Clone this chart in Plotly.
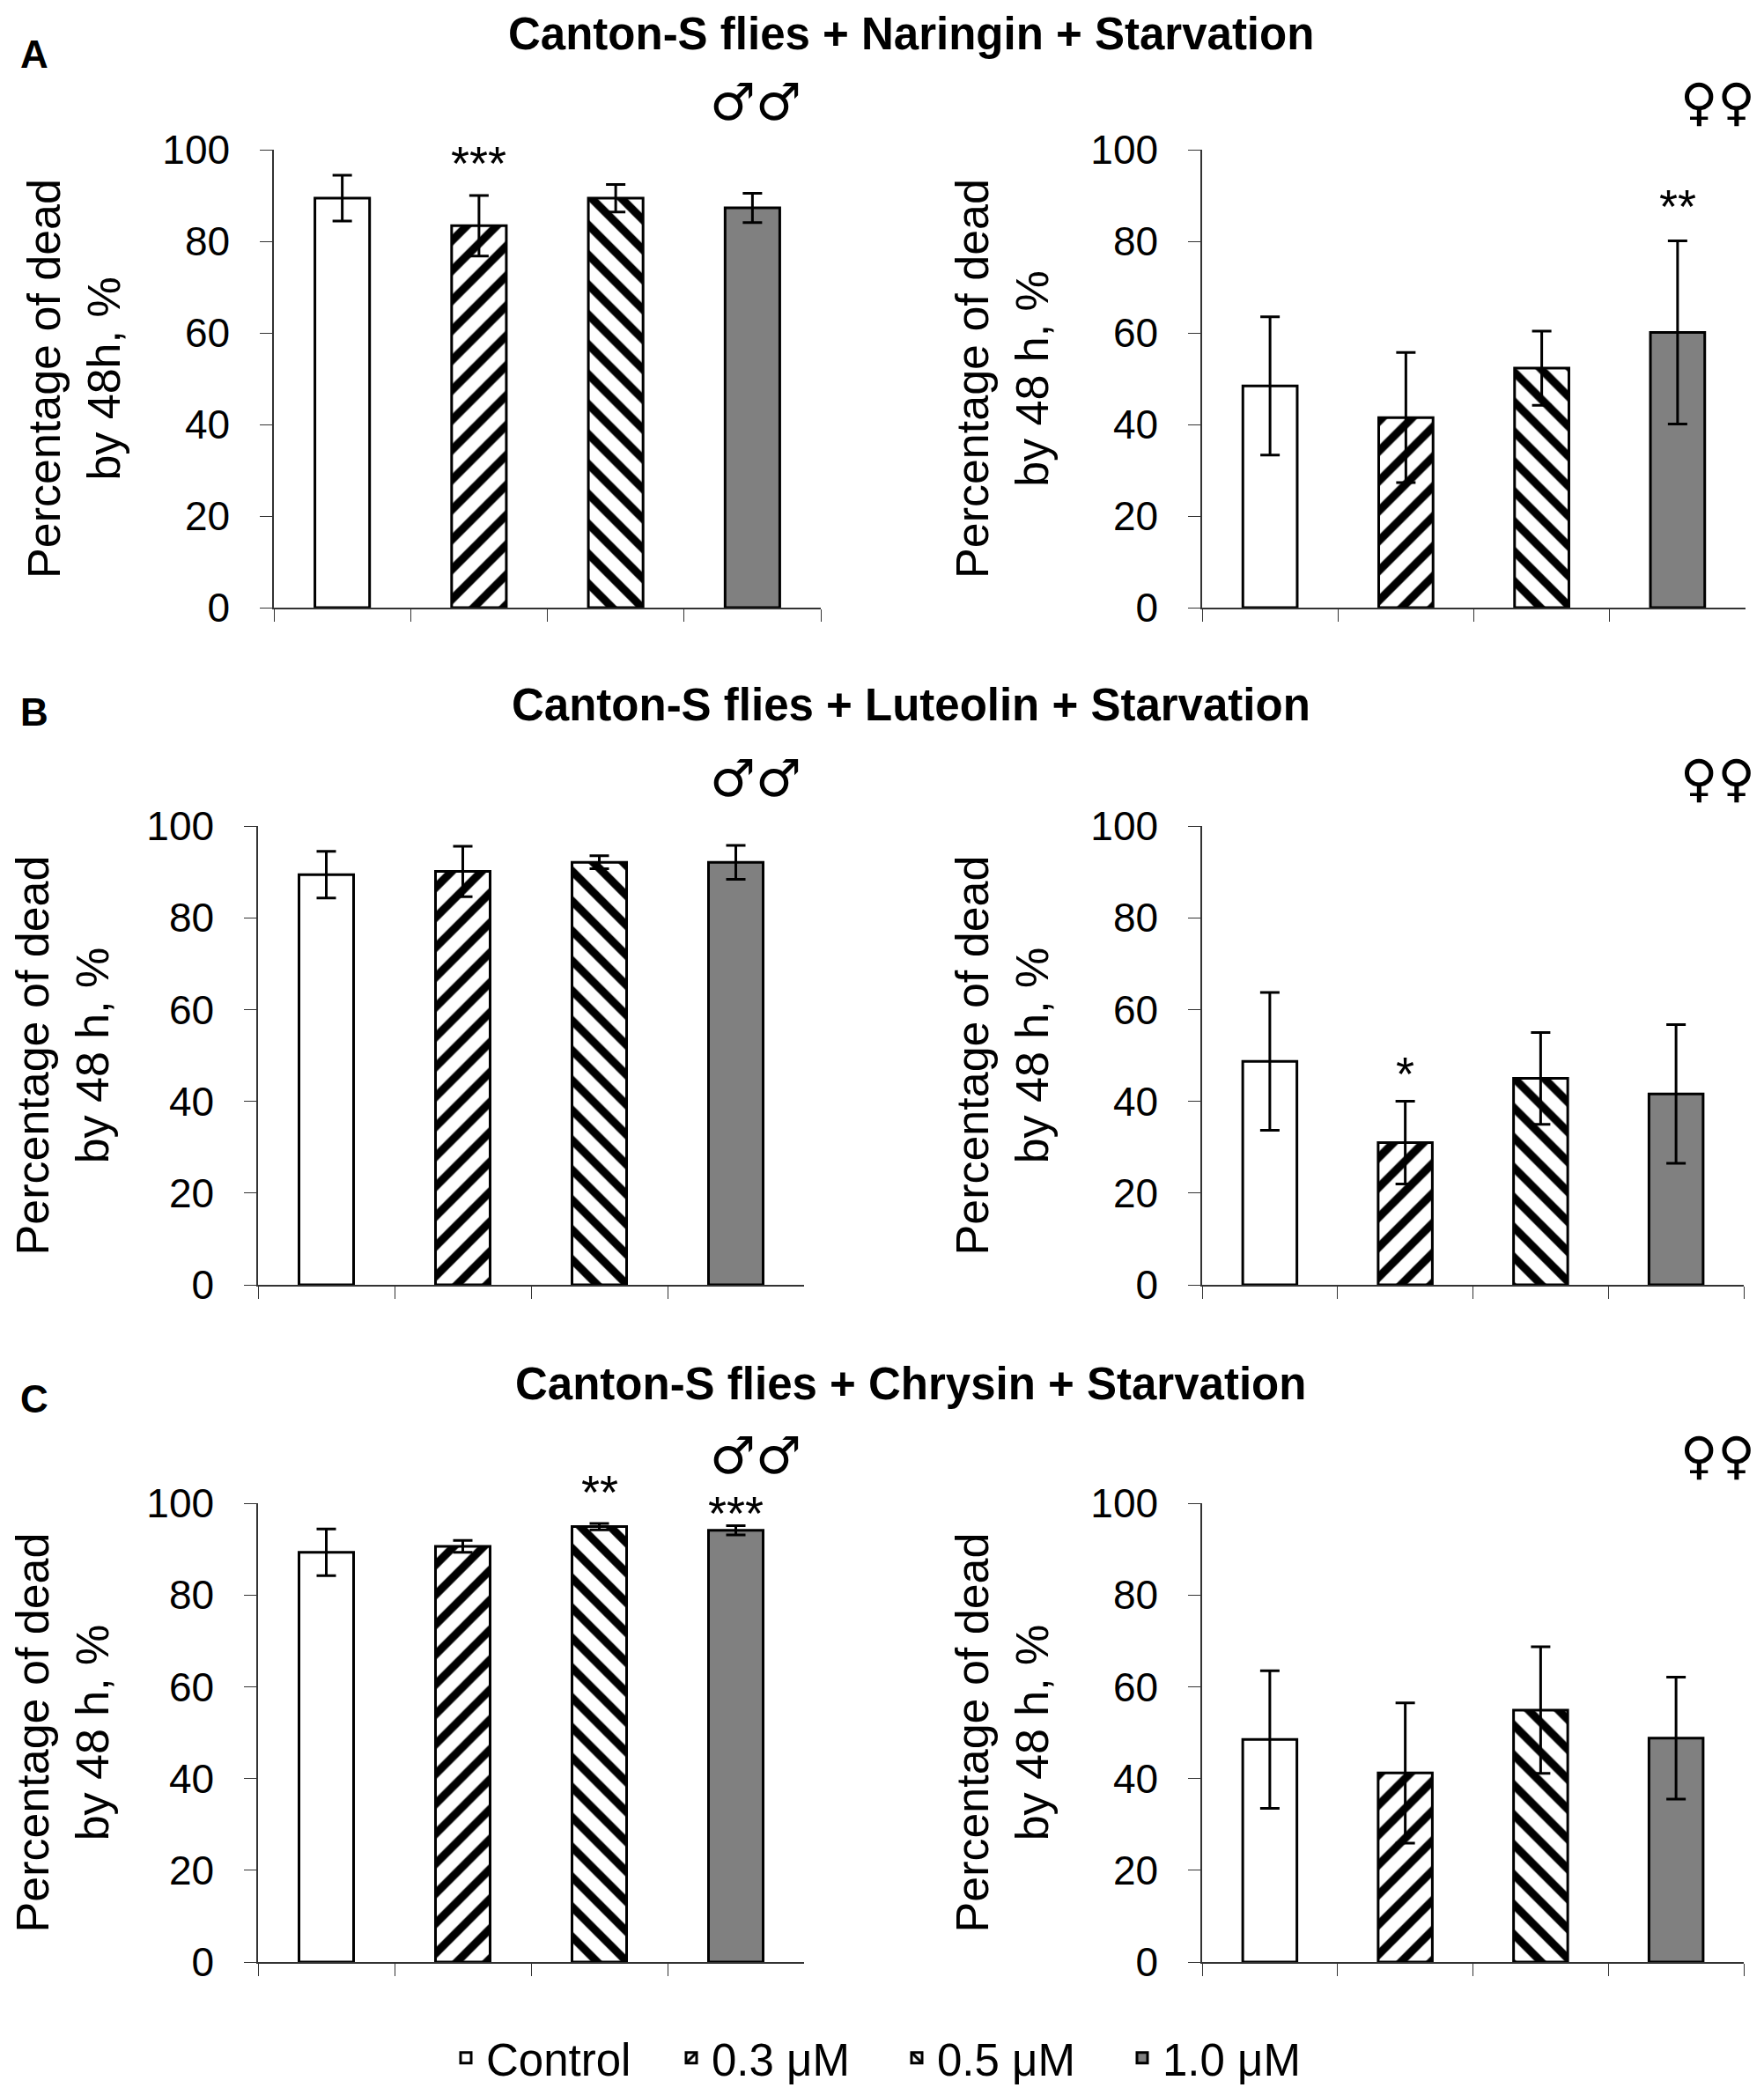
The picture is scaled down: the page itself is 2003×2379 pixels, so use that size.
import plotly.graph_objects as go
from plotly.subplots import make_subplots

# Canvas size of the reference picture (px)
W, H = 2003, 2379
PAGE_OFFSET = 8  # default body margin of the page holding the figure

doses = ["Control", "0.3 μM", "0.5 μM", "1.0 μM"]

# Percentage of dead flies by 48 h (mean and error)
naringin_male = [89.4, 83.4, 89.4, 87.3]
naringin_male_err = [5.0, 6.6, 3.0, 3.2]
naringin_female = [48.4, 41.5, 52.3, 60.1]
naringin_female_err = [15.1, 14.2, 8.1, 20.0]

luteolin_male = [89.4, 90.1, 92.1, 92.1]
luteolin_male_err = [5.1, 5.5, 1.4, 3.7]
luteolin_female = [48.7, 31.0, 45.0, 41.6]
luteolin_female_err = [15.0, 9.0, 10.0, 15.1]

chrysin_male = [89.3, 90.6, 94.9, 94.1]
chrysin_male_err = [5.1, 1.3, 0.7, 1.0]
chrysin_female = [48.5, 41.2, 54.9, 48.8]
chrysin_female_err = [15.0, 15.3, 13.8, 13.3]

panel_titles = ["Canton-S flies + Naringin + Starvation",
                "Canton-S flies + Luteolin + Starvation",
                "Canton-S flies + Chrysin + Starvation"]
panel_letters = ["A", "B", "C"]

# significance marks: (subplot number, dose index, label, height in % units)
stars = [(1, 1, "***", 97.2), (2, 3, "**", 87.6), (4, 1, "*", 46.0),
         (5, 2, "**", 102.5), (5, 3, "***", 97.8)]

FONT = "Liberation Sans, Arial, sans-serif"
SYMBOL_FONT = "DejaVu Sans ExtraLight, DejaVu Sans, sans-serif"
bar_fill = ["white", "white", "white", "#808080"]
bar_pattern = ["", "/", "\\", ""]


def px_x(p):
    return (p - PAGE_OFFSET) / W


def px_y(p):
    return 1 - (p - PAGE_OFFSET) / H


# (values, errors, y title, x range px, y range px, sex symbol)
panels = [
    (naringin_male, naringin_male_err, "Percentage of dead<br>by 48h, %", (311, 932), (690, 170), "♂♂"),
    (naringin_female, naringin_female_err, "Percentage of dead<br>by 48 h, %", (1365, 1982), (690, 170), "♀♀"),
    (luteolin_male, luteolin_male_err, "Percentage of dead<br>by 48 h, %", (293, 913), (1459, 938), "♂♂"),
    (luteolin_female, luteolin_female_err, "Percentage of dead<br>by 48 h, %", (1365, 1980), (1459, 938), "♀♀"),
    (chrysin_male, chrysin_male_err, "Percentage of dead<br>by 48 h, %", (293, 913), (2228, 1707), "♂♂"),
    (chrysin_female, chrysin_female_err, "Percentage of dead<br>by 48 h, %", (1365, 1980), (2228, 1707), "♀♀"),
]

fig = make_subplots(rows=3, cols=2)

annotations = []
for n, (vals, errs, ytitle, xr, yr, sex) in enumerate(panels, start=1):
    row, col = (n - 1) // 2 + 1, (n - 1) % 2 + 1
    for i, dose in enumerate(doses):
        fig.add_trace(go.Bar(
            x=[dose], y=[vals[i]], name=dose, width=0.4,
            marker=dict(color=bar_fill[i], line=dict(color="black", width=3),
                        pattern=dict(shape=bar_pattern[i], fgcolor="black", bgcolor="white",
                                     fgopacity=1, size=24, solidity=0.38)),
            error_y=dict(type="data", array=[errs[i]], color="black", thickness=3, width=11),
            showlegend=(n == 1), legendgroup=dose,
        ), row=row, col=col)

    sfx = "" if n == 1 else str(n)
    fig.layout["xaxis" + sfx].update(
        domain=[px_x(xr[0]), px_x(xr[1])], range=[-0.5, 3.5], automargin=False,
        showline=True, linecolor="#333", linewidth=1.5,
        ticks="outside", tickson="boundaries", ticklen=14, tickcolor="#333",
        showticklabels=False, showgrid=False, zeroline=False)
    fig.layout["yaxis" + sfx].update(
        domain=[px_y(yr[0]), px_y(yr[1])], range=[0, 100], tickvals=[0, 20, 40, 60, 80, 100],
        automargin=False,
        showline=True, linecolor="#333", linewidth=1.5,
        ticks="outside", ticklen=14, tickcolor="#333", ticklabelstandoff=25,
        tickfont=dict(family=FONT, size=46, color="black"),
        title=dict(text=ytitle, font=dict(family=FONT, size=52, color="black"), standoff=31),
        showgrid=False, zeroline=False)

    # sex symbol above the top right corner of each panel
    annotations.append(dict(
        x=px_x(1950 if col == 2 else 858), y=px_y(yr[1] - 54),
        xref="paper", yref="paper", xanchor="center", yanchor="middle",
        text=sex, showarrow=False,
        font=dict(family=SYMBOL_FONT, size=58, color="black")))

for n, i, label, y in stars:
    sfx = "" if n == 1 else str(n)
    annotations.append(dict(x=doses[i], y=y / 100, xref="x" + sfx, yref="y" + sfx + " domain",
                            xanchor="center", yanchor="middle", text=label, showarrow=False,
                            font=dict(family=FONT, size=54, color="black")))

title_y = [38, 800, 1571]
letter_y = [62, 808, 1588]
for k in range(3):
    annotations.append(dict(x=px_x(1034), y=px_y(title_y[k]), xref="paper", yref="paper",
                            xanchor="center", yanchor="middle",
                            text="<b>" + panel_titles[k] + "</b>", showarrow=False,
                            font=dict(family=FONT, size=51, color="black")))
    annotations.append(dict(x=px_x(39), y=px_y(letter_y[k]), xref="paper", yref="paper",
                            xanchor="center", yanchor="middle",
                            text="<b>" + panel_letters[k] + "</b>", showarrow=False,
                            font=dict(family=FONT, size=44, color="black")))

fig.update_layout(
    width=W, height=H, margin=dict(l=0, r=0, t=0, b=0),
    plot_bgcolor="white", paper_bgcolor="white",
    barmode="overlay", annotations=annotations,
    legend=dict(orientation="h", x=px_x(1018), xanchor="center", y=px_y(2337), yanchor="middle",
                font=dict(family=FONT, size=51, color="black"), itemwidth=36,
                entrywidth=205, entrywidthmode="pixels"),
)

fig.write_html("out.html")
